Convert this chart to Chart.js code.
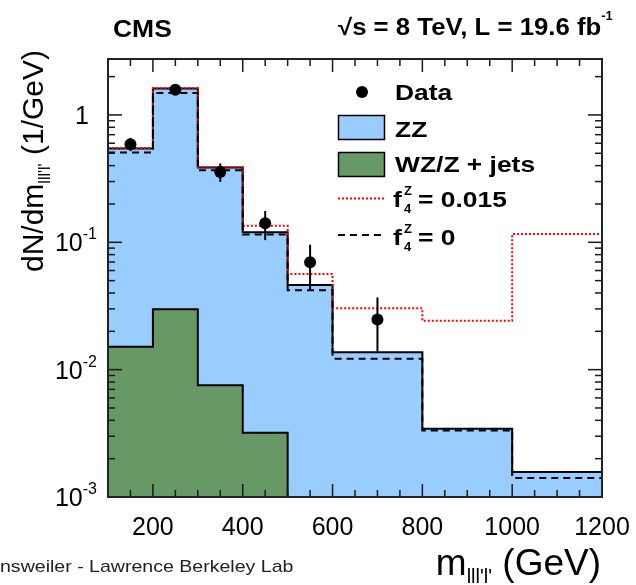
<!DOCTYPE html>
<html>
<head>
<meta charset="utf-8">
<script src="https://cdn.jsdelivr.net/npm/chart.js@4.4.0/dist/chart.umd.min.js"></script>
<style>
  html, body { margin:0; padding:0; background:#fff; }
  #wrap { position:relative; width:636px; height:585px; }
</style>
</head>
<body>
<div id="wrap"><canvas id="c" width="636" height="585"></canvas></div>
<script>
/* ===== CMS 4-lepton mass, ZZ + aTGC ===== */

// variable-width bins (GeV)
const EDGES   = [100, 200, 300, 400, 500, 600, 800, 1000, 1200];
const ZZ      = [0.545, 1.61, 0.387, 0.120, 0.0462, 0.0137, 0.00343, 0.00157];
const WZJETS  = [0.0151, 0.0298, 0.00755, 0.00319];          // empty above 500 GeV
const F4_015  = [0.55, 1.62, 0.39, 0.135, 0.0563, 0.0303, 0.0242, 0.116];
const F4_0    = [0.507, 1.49, 0.368, 0.115, 0.0420, 0.0122, 0.00333, 0.00141];
// data points with error bars
const DATA_X  = [150, 250, 350, 450, 550, 700];
const DATA_Y  = [0.589, 1.58, 0.357, 0.141, 0.0696, 0.0248];
const DATA_LO = [0.52, 1.46, 0.298, 0.104, 0.0420, 0.0137];
const DATA_HI = [0.66, 1.71, 0.416, 0.176, 0.0958, 0.0369];
// axes
const X_LABELS  = [200, 400, 600, 800, 1000, 1200];
const X_TICKS   = [150, 200, 250, 300, 350, 400, 450, 500, 550, 600, 650, 700, 750, 800, 850, 900, 950, 1000, 1050, 1100, 1150];
const Y_DECADES = [0, -1, -2, -3];
const X_MIN = 100, X_MAX = 1200, Y_MIN = 1e-3, Y_MAX = 2.75;

const BLUE = "#99ccff", GREEN = "#669966", RED = "#ff0000";
const FONT = '"Liberation Sans", Arial, Helvetica, sans-serif';

// histogram as step points: one point per left edge + closing right edge
const steps = vals => vals.map((v,i)=>({x:EDGES[i], y:v}))
  .concat([{x:EDGES[vals.length], y:vals[vals.length-1]}]);

// text helper, sx = horizontal stretch (ROOT fonts render wide)
function txt(ctx, s, x, y, size, o={}){
  ctx.save();
  ctx.font = (o.bold?"bold ":"") + size + "px " + FONT;
  ctx.fillStyle = o.color || "#000";
  ctx.textAlign = "left"; ctx.textBaseline = "alphabetic";
  const sx = o.sx || 1;
  const w = ctx.measureText(s).width * sx;
  let x0 = x;
  if(o.align === "right") x0 = x - w;
  else if(o.align === "center") x0 = x - w/2;
  ctx.translate(x0, y); ctx.scale(sx, 1);
  if(!o.measure) ctx.fillText(s, 0, 0);
  ctx.restore();
  return w;
}
// a run of pieces with their own size / vertical shift
function runs(ctx, parts, x, y, measure){
  let cx = x;
  parts.forEach(p=>{
    const w = txt(ctx, p.t, cx, y + (p.dy||0), p.size, {bold:p.bold, sx:p.sx, measure});
    cx += w;
  });
  return cx - x;
}

function seg(ctx, x1, y1, x2, y2){
  ctx.beginPath(); ctx.moveTo(x1, y1); ctx.lineTo(x2, y2); ctx.stroke();
}

const decorations = {
  id: "decorations",
  afterDraw(chart){
    const ctx = chart.ctx, xs = chart.scales.x, ys = chart.scales.y, a = chart.chartArea;
    ctx.save();
    ctx.setLineDash([]);
    // error bars
    ctx.strokeStyle = "#000"; ctx.lineWidth = 2;
    DATA_X.forEach((x,i)=>{
      const px = xs.getPixelForValue(x);
      seg(ctx, px, ys.getPixelForValue(DATA_LO[i]), px, ys.getPixelForValue(DATA_HI[i]));
    });
    // ticks, all four sides, pointing inward (filled thin rects)
    ctx.fillStyle = "#1a1a1a";
    X_TICKS.forEach(v=>{
      const px = xs.getPixelForValue(v);
      const len = v % 200 === 0 ? 13 : 7;
      ctx.fillRect(px - 0.75, a.bottom - len, 1.5, len);
      ctx.fillRect(px - 0.75, a.top, 1.5, len);
    });
    for(let e = -3; e <= 0; e++){
      for(let k = 1; k <= 9; k++){
        const v = k * Math.pow(10, e);
        if(v <= Y_MIN || v > Y_MAX) continue;
        const py = ys.getPixelForValue(v);
        const len = k === 1 ? 14 : 7;
        ctx.fillRect(a.left, py - 0.75, len, 1.5);
        ctx.fillRect(a.right - len, py - 0.75, len, 1.5);
      }
    }
    // frame
    ctx.lineWidth = 2; ctx.strokeStyle = "#222";
    ctx.strokeRect(a.left, a.top, a.right - a.left, a.bottom - a.top);
    ctx.restore();

    // x tick labels
    X_LABELS.forEach(v=> txt(ctx, String(v), xs.getPixelForValue(v), 535, 25, {align:"center"}));
    // y tick labels
    Y_DECADES.forEach(e=>{
      const py = ys.getPixelForValue(Math.pow(10, e));
      if(e === 0){ txt(ctx, "1", 89, py + 9, 25, {align:"right"}); return; }
      const ew = txt(ctx, String(e), 0, 0, 16, {measure:true});
      txt(ctx, String(e), 97, py - 3, 16, {align:"right"});
      txt(ctx, "10", 97 - ew, py + 9, 25, {align:"right"});
    });
    // top titles
    txt(ctx, "CMS", 113, 37, 23, {bold:true, sx:1.15});
    runs(ctx, [
      {t:"\u221As = 8 TeV, L = 19.6 fb", size:23, bold:true, sx:1.12},
      {t:"-1", size:13, bold:true, dy:-15}
    ], 338, 35);
    // x axis title
    const xParts = [
      {t:"m", size:37},
      {t:"lll'l'", size:20, dy:8},
      {t:" (GeV)", size:37}
    ];
    const xw = runs(ctx, xParts, 0, 0, true);
    runs(ctx, xParts, 601 - xw, 575);
    // y axis title (rotated)
    const yParts = [
      {t:"dN/dm", size:30},
      {t:"lll'l'", size:16, dy:7},
      {t:" (1/GeV)", size:30}
    ];
    const yw = runs(ctx, yParts, 0, 0, true);
    ctx.save();
    ctx.translate(43, 161); ctx.rotate(-Math.PI/2);
    runs(ctx, yParts, -yw/2, 0);
    ctx.restore();
    // watermark
    txt(ctx, "nsweiler - Lawrence Berkeley Lab", 0, 572, 17, {color:"#222", sx:1.15});

    // legend
    ctx.save();
    ctx.fillStyle = "#000";
    ctx.beginPath(); ctx.arc(362, 92, 6, 0, Math.PI*2); ctx.fill();
    ctx.lineWidth = 1.5; ctx.strokeStyle = "#000";
    ctx.fillStyle = BLUE;  ctx.fillRect(338.5, 115.5, 46, 24); ctx.strokeRect(338.5, 115.5, 46, 24);
    ctx.fillStyle = GREEN; ctx.fillRect(338.5, 152.5, 46, 24); ctx.strokeRect(338.5, 152.5, 46, 24);
    ctx.lineWidth = 2;
    ctx.strokeStyle = RED; ctx.setLineDash([2,2]);
    seg(ctx, 338, 198.5, 384, 198.5);
    ctx.strokeStyle = "#000"; ctx.setLineDash([7,5]);
    seg(ctx, 338, 235, 384, 235);
    ctx.restore();
    txt(ctx, "Data", 395, 100, 22, {bold:true, sx:1.2});
    txt(ctx, "ZZ", 395, 137, 22, {bold:true, sx:1.2});
    txt(ctx, "WZ/Z + jets", 395, 172, 22, {bold:true, sx:1.2});
    [[207, "= 0.015"], [245, "= 0"]].forEach(([b, s])=>{
      txt(ctx, "f", 393, b, 22, {bold:true, sx:1.2});
      txt(ctx, "Z", 404, b - 12, 13, {bold:true});
      txt(ctx, "4", 404, b + 6, 13, {bold:true});
      txt(ctx, s, 418, b, 22, {bold:true, sx:1.2});
    });
  }
};

const hist = (vals, extra) => Object.assign({
  type:"line", data:steps(vals), stepped:"before",
  pointRadius:0, borderWidth:2, tension:0
}, extra);

const wz = steps(WZJETS);
wz.push({x:EDGES[WZJETS.length], y:Y_MIN});   // drop to the floor at 500 GeV

new Chart(document.getElementById("c"), {
  type:"line",
  data:{
    datasets:[
      { label:"Data", type:"line", data:DATA_X.map((x,i)=>({x, y:DATA_Y[i]})),
        showLine:false, pointRadius:6, pointHoverRadius:6, pointBackgroundColor:"#000",
        pointBorderWidth:0, order:0 },
      hist(F4_0,   { label:"f4Z = 0",     borderColor:"#000", borderDash:[7,5], fill:false, order:1 }),
      hist(F4_015, { label:"f4Z = 0.015", borderColor:RED, borderDash:[2,2], fill:false, order:2 }),
      Object.assign(hist(WZJETS, { label:"WZ/Z + jets", borderColor:"#000", backgroundColor:GREEN, fill:"start", order:3 }), {data:wz}),
      hist(ZZ,     { label:"ZZ", borderColor:"#000", backgroundColor:BLUE, fill:"start", order:4 })
    ]
  },
  options:{
    responsive:false, animation:false, devicePixelRatio:1,
    layout:{ padding:{ left:108, right:34, top:59, bottom:88 } },
    plugins:{ legend:{display:false}, tooltip:{enabled:false} },
    scales:{
      x:{ type:"linear", min:X_MIN, max:X_MAX, display:false },
      y:{ type:"logarithmic", min:Y_MIN, max:Y_MAX, display:false }
    }
  },
  plugins:[decorations]
});
</script>
</body>
</html>
